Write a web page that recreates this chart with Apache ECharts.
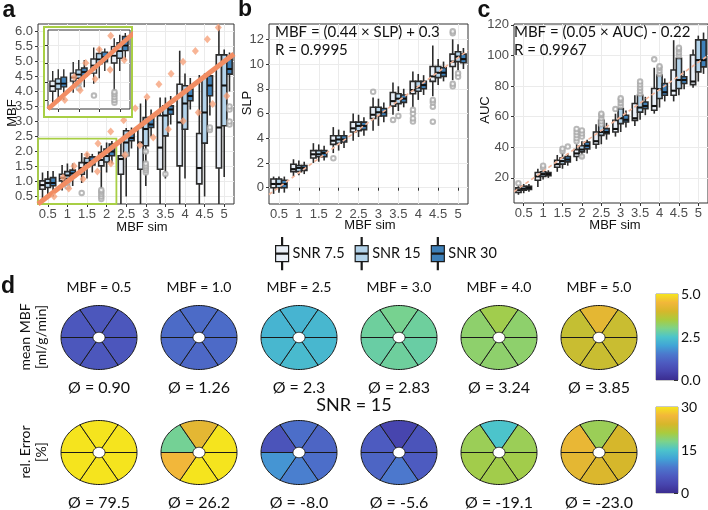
<!DOCTYPE html>
<html><head><meta charset="utf-8">
<script src="https://cdn.jsdelivr.net/npm/echarts@6/dist/echarts.min.js"></script>
<style>html,body{margin:0;padding:0;background:#fff}#c{width:708px;height:510px}</style>
</head><body><div id="c"></div><script>
// ---------- data ----------
const categories = ['0.5','1','1.5','2','2.5','3','3.5','4','4.5','5'];
const seriesNames = ['SNR 7.5','SNR 15','SNR 30'];
const boxFills = ['#eaf0f8','#b3d3ea','#3e80b9'];

// panel a: [min, q1, median, q3, max]
const aSnr75 = [[0.42,0.74,0.88,1.02,1.3],[0.7,1.02,1.12,1.24,1.55],[0.95,1.24,1.45,1.63,1.95],[0.4,1.52,1.72,1.97,2.2],[0.25,1.24,1.75,1.86,2.42],[0.25,1.41,2.3,2.8,3.6],[0.25,1.41,2.13,3.19,3.8],[0.25,1.52,2.97,4.24,5.36],[0.25,0.92,1.45,2.6,4.55],[0.25,1.45,2.8,5.22,6.2]];
const aSnr15 = [[0.45,0.8,0.95,1.08,1.35],[0.78,1.1,1.2,1.33,1.6],[1.1,1.5,1.62,1.78,1.95],[1.3,1.65,1.85,2.08,2.3],[0.5,1.86,2.3,2.69,2.78],[0.85,2.19,2.75,3.13,3.75],[1.1,2.52,3.2,3.52,3.8],[1.1,2.74,3.6,4.19,4.6],[0.5,2.28,3.3,4.48,4.6],[1.15,2.86,4.2,5.22,5.4]];
const aSnr30 = [[0.5,0.86,0.95,1.13,1.35],[0.85,1.15,1.27,1.38,1.6],[1.3,1.55,1.68,1.82,1.92],[1.6,1.86,2.0,2.25,2.35],[2.1,2.36,2.45,2.63,2.8],[2.5,2.8,2.9,3.13,3.4],[2.9,3.24,3.4,3.52,3.85],[3.4,3.69,3.85,4.08,4.45],[3.2,3.86,4.2,4.52,4.7],[4.0,4.58,4.75,5.08,5.3]];
// outliers: [category index, series index, value]
const aOutliers = [[1,1,0.83],[1,1,0.97],[2,0,0.62],[3,0,0.42],[3,0,0.5],[3,0,0.58],[3,0,0.66],[3,0,0.72],[4,1,1.9],[5,1,1.3],[5,1,1.38],[5,1,1.45],[5,1,1.52],[5,1,1.6],[5,1,2.0],[6,1,1.25],[8,2,2.72],[8,2,2.8],[9,2,2.9],[9,2,3.0],[9,2,3.4],[9,2,3.5]];
// diamonds: [position along x (0..10 band units), MBF]
const aDiamondsUpper = [[1.28,1.13],[1.84,1.52],[2.5,1.89],[3.06,2.27],[3.71,2.67],[4.37,3.04],[4.96,3.44],[5.56,3.82],[6.17,4.24],[6.79,4.59],[7.4,4.99],[8.03,5.35],[8.64,5.74],[9.2,6.13]];
const aDiamondsLower = [[0.82,0.5],[1.57,0.77],[2.3,1.08],[3.03,1.33],[3.72,1.6],[4.44,1.88],[5.2,2.21],[5.88,2.47],[6.65,2.74],[7.41,3.02],[8.18,3.3],[8.91,3.58],[9.63,3.85]];
const aIdentityLine = [[0,0.25],[10,5.25]];
const aZoomRegion = [[0,0.25],[4,2.43]];
const aYTicks = [0.5,1,1.5,2,2.5,3,3.5,4,4.5,5,5.5,6];

// panel b
const bSnr75 = [[-0.5,0.0,0.3,0.7,0.9],[0.9,1.3,1.5,1.9,2.3],[2.0,2.4,2.7,3.0,3.6],[2.8,3.5,3.8,4.2,4.9],[3.8,4.5,4.8,5.3,6.0],[4.6,5.6,5.9,6.5,7.3],[5.9,6.6,7.0,7.7,8.5],[6.5,7.6,7.9,8.6,9.4],[7.4,8.6,9.0,9.8,11.5],[8.7,9.8,10.2,10.8,12.0]];
const bSnr15 = [[-0.4,0.0,0.3,0.7,0.9],[1.0,1.3,1.6,1.8,2.2],[2.1,2.5,2.7,3.0,3.5],[3.0,3.6,3.9,4.2,4.7],[4.1,4.6,5.0,5.3,5.9],[5.0,5.8,6.1,6.5,7.2],[6.2,6.8,7.2,7.6,8.2],[7.1,7.8,8.1,8.6,9.2],[8.3,8.9,9.3,9.8,10.4],[9.5,10.2,10.6,11.0,11.6]];
const bSnr30 = [[-0.4,0.0,0.3,0.6,0.9],[1.1,1.4,1.6,1.8,2.1],[2.2,2.5,2.8,3.0,3.4],[3.2,3.7,3.9,4.2,4.6],[4.2,4.7,5.0,5.3,5.7],[5.3,5.8,6.1,6.4,6.9],[6.5,6.9,7.2,7.5,8.0],[7.5,8.0,8.3,8.6,9.1],[8.6,9.0,9.3,9.7,10.2],[9.6,10.1,10.4,10.8,11.3]];
const bOutliers = [[3,0,2.38],[5,0,7.76],[6,0,5.48],[6,1,5.8],[7,0,5.35],[7,0,5.6],[7,0,6.0],[7,0,6.3],[8,0,5.34],[8,0,6.55],[8,0,6.9],[8,0,7.1],[9,0,8.2],[9,0,8.4],[9,0,12.5],[9,0,12.65],[9,1,8.97],[9,1,9.25]];
const bTrendLine = [[0,-0.55],[10,11.1]];
const bYTicks = [0,2,4,6,8,10,12];

// panel c
const cSnr75 = [[9,10.5,12,13.5,15],[14,18.5,21,23.5,26],[24,27,29,31.5,35],[31,34,36,38.5,42],[39,42,44,50,55],[47,50,52,57.6,62],[54,57.6,59,68.6,74],[62,64.2,67,78.4,92],[70,74,77,90.5,110],[79,81,83,100.3,104]];
const cSnr15 = [[10,12,13,14.5,16],[19,21,22.5,24,26],[26,29,31,33,37],[33,37,38.5,41,44],[42,47.8,50,57.6,60],[50,55.5,59,65.3,70],[58,63,66,74,80],[66,71.9,78,87.2,91],[74,78.4,84,98.1,101],[83,89.3,97,110.2,113]];
const cSnr30 = [[11,12.5,13.5,14.5,16],[20,21.5,22.5,23.5,25],[28,30.5,32,34,36],[36,39,41,43.4,45],[45,48.9,50,52.2,56],[53,56.5,58,61,64],[61,65.3,67,69.6,73],[70,74,76,81.7,85],[78,81.7,84,86.1,90],[88,92.6,97,110.2,115]];
const cOutliers = [[0,0,16.5],[1,1,26.5],[1,1,28],[2,1,37.5],[2,1,39],[2,2,40.5],[3,0,44],[3,0,46],[3,0,48],[3,0,50],[3,0,52],[3,1,47],[3,1,49],[3,1,51],[3,1,34],[4,1,55],[4,1,57],[4,1,59],[4,1,61],[4,1,62],[5,0,65],[5,1,67],[5,1,69],[5,1,71],[5,1,72],[6,1,75],[6,1,77],[6,1,79],[6,1,81],[6,1,83],[7,0,97.5],[7,1,88],[7,1,90],[7,1,92],[7,1,93],[8,1,100],[8,1,102],[8,1,104],[8,1,105]];
const cTrendLine = [[0,11],[10,100]];
const cYTicks = [20,40,60,80,100,120];

// panel d: six segments per bullseye, ordered [lower-right, bottom, lower-left, upper-left, top, upper-right]
const pieTitles = ['MBF = 0.5','MBF = 1.0','MBF = 2.5','MBF = 3.0','MBF = 4.0','MBF = 5.0'];
const mbfSegments = [[0.88,0.9,0.9,0.92,0.9,0.9],[1.25,1.22,1.25,1.27,1.27,1.3],[2.3,2.35,2.3,2.25,2.25,2.3],[2.8,2.85,2.8,2.85,2.95,2.85],[3.2,3.2,3.2,3.2,3.4,3.2],[3.85,3.85,3.85,3.8,4.25,3.85]];
const errSegments = [[79,80,79,80,79,80],[30,30,27,17.5,25.5,30],[8,9.5,11,5,8,7],[6,9,7,6,3,5],[20.5,20.5,20.5,20,15,20],[24,24.5,25.5,26,20,24]];
const mbfMeans = ['Ø = 0.90','Ø = 1.26','Ø = 2.3','Ø = 2.83','Ø = 3.24','Ø = 3.85'];
const errMeans = ['Ø = 79.5','Ø = 26.2','Ø = -8.0','Ø = -5.6','Ø = -19.1','Ø = -23.0'];
const colormap = ['#3b2d90','#4745ae','#4d5bc0','#4c78cd','#41a4d6','#4cc4cb','#7cd38a','#aacb3e','#d6b72b','#f2b73a','#f5e41e'];

// ---------- helpers ----------
const TICK_FONT = 'Liberation Sans';
const CAL = 'Lato';
const DARK = '#2b2b2b';

function boxSeries(name, k, rows, xi, yi, lw, z) {
  const fill = boxFills[k];
  return {
    type: 'custom', name, xAxisIndex: xi, yAxisIndex: yi, clip: true, z: z || 2, silent: true,
    itemStyle: { color: fill },
    encode: { x: 0, y: [1, 2, 3, 4, 5] },
    data: rows.map((r, i) => [i].concat(r)),
    renderItem: (params, api) => {
      const c = api.value(0);
      const band = api.size([1, 0])[0];
      const w = band * 0.27;
      const x = api.coord([c, api.value(3)])[0] + (k - 1) * w;
      const y = j => api.coord([c, api.value(j)])[1];
      const yMin = y(1), yQ1 = y(2), yMed = y(3), yQ3 = y(4), yMax = y(5);
      const st = { stroke: DARK, lineWidth: lw };
      return { type: 'group', children: [
        { type: 'line', shape: { x1: x, y1: yMax, x2: x, y2: yQ3 }, style: st },
        { type: 'line', shape: { x1: x, y1: yQ1, x2: x, y2: yMin }, style: st },
        { type: 'rect', shape: { x: x - w / 2, y: yQ3, width: w, height: yQ1 - yQ3 }, style: { fill: fill, stroke: DARK, lineWidth: lw } },
        { type: 'line', shape: { x1: x - w / 2, y1: yMed, x2: x + w / 2, y2: yMed }, style: { stroke: '#111', lineWidth: lw * 1.3 } }
      ] };
    }
  };
}
function outlierSeries(list, xi, yi, z) {
  return {
    type: 'scatter', xAxisIndex: xi, yAxisIndex: yi, silent: true, z: z || 3,
    symbol: 'emptyCircle', symbolSize: 4.5,
    itemStyle: { color: '#a8a8a8', borderColor: '#a8a8a8', borderWidth: 1 },
    data: list.map(o => ({ value: [o[0], o[2]], symbolOffset: [(o[1] - 1) * 5.3, 0] }))
  };
}
function catAxis(gi, showLabels, labels) {
  return {
    type: 'category', gridIndex: gi, data: labels || categories, boundaryGap: true,
    axisLine: { show: false },
    axisTick: { show: true, alignWithLabel: true, length: 3, lineStyle: { color: '#333' } },
    axisLabel: { show: showLabels, interval: 0, margin: 4, fontFamily: TICK_FONT, fontSize: 13, color: '#4d4d4d' },
    splitLine: { show: true, alignWithLabel: true, lineStyle: { color: '#ebebeb', width: 1 } }
  };
}
function hiddenX(gi, max) {
  return { type: 'value', gridIndex: gi, min: 0, max: max, show: false, splitLine: { show: false } };
}
function valAxis(gi, opts, ticks, fmt, showLabels) {
  return Object.assign({
    type: 'value', gridIndex: gi,
    axisLine: { show: false },
    axisTick: { show: true, length: 3, lineStyle: { color: '#333' }, customValues: ticks },
    axisLabel: { show: showLabels !== false, customValues: ticks, margin: 5, fontFamily: TICK_FONT, fontSize: 13, color: '#4d4d4d', formatter: fmt },
    splitLine: { show: true, lineStyle: { color: '#ebebeb', width: 1 } }
  }, opts);
}

const gridStyle = { show: true, backgroundColor: '#fff', borderColor: '#333', borderWidth: 1 };
const grids = [
  Object.assign({ left: 38, top: 24, width: 196, height: 180 }, gridStyle),   // a
  Object.assign({ left: 269, top: 24, width: 199, height: 180 }, gridStyle),  // b
  Object.assign({ left: 514, top: 24, width: 194, height: 179 }, gridStyle),  // c
  Object.assign({ left: 48, top: 30, width: 82, height: 79, z: 11 }, gridStyle), // inset
  { left: 656, top: 294, width: 22, height: 86, show: true, borderColor: '#777', borderWidth: 0.8 },
  { left: 656, top: 407, width: 22, height: 86, show: true, borderColor: '#777', borderWidth: 0.8 },
  { left: 49, top: 280, width: 600, height: 230, show: false }   // bullseye layout
];

const insetCats = categories.slice(0, 4);
const xAxes = [
  catAxis(0, true), hiddenX(0, 10),
  catAxis(1, true), hiddenX(1, 10),
  catAxis(2, true), hiddenX(2, 10),
  Object.assign(catAxis(3, false, insetCats), { z: 11 }), Object.assign(hiddenX(3, 4), { z: 11 }),
  { type: 'category', gridIndex: 4, data: [''], show: false },
  { type: 'category', gridIndex: 5, data: [''], show: false },
  { type: 'value', gridIndex: 6, min: 0, max: 6, show: false, splitLine: { show: false } }
];
const yAxes = [
  valAxis(0, { min: 0.25, max: 6.25, interval: 0.25 }, aYTicks, v => v.toFixed(1)),
  valAxis(1, { min: -1.32, max: 13.24, splitNumber: 14 }, bYTicks, v => String(v)),
  valAxis(2, { min: 3.6, max: 120.6, splitNumber: 12 }, cYTicks, v => String(v)),
  Object.assign(valAxis(3, { min: 0.25, max: 2.43, interval: 0.25 }, [0.5, 1, 1.5, 2], v => v, false), { z: 11 }),
  { type: 'value', gridIndex: 4, min: 0, max: 5, interval: 0.5, position: 'right',
    axisLine: { show: false }, splitLine: { show: false },
    axisTick: { show: true, inside: true, length: 4, lineStyle: { color: '#333' } },
    axisLabel: { customValues: [0, 2.5, 5], formatter: v => v.toFixed(1), margin: 3, fontFamily: CAL, fontSize: 14, color: '#111' } },
  { type: 'value', gridIndex: 5, min: 0, max: 30, interval: 3, position: 'right',
    axisLine: { show: false }, splitLine: { show: false },
    axisTick: { show: true, inside: true, length: 4, lineStyle: { color: '#333' } },
    axisLabel: { customValues: [0, 15, 30], formatter: v => String(v), margin: 3, fontFamily: CAL, fontSize: 14, color: '#111' } },
  { type: 'value', gridIndex: 6, min: 0, max: 2, inverse: true, show: false, splitLine: { show: false } }
];

const series = [];
// panel a
[aSnr75, aSnr15, aSnr30].forEach((rows, k) => series.push(boxSeries(seriesNames[k], k, rows, 0, 0, 1.6)));
series.push(outlierSeries(aOutliers, 0, 0));
series.push({ type: 'line', xAxisIndex: 1, yAxisIndex: 0, data: aIdentityLine, symbol: 'none', silent: true, z: 4,
  lineStyle: { color: '#f28d63', width: 5 } });
series.push({ type: 'scatter', xAxisIndex: 1, yAxisIndex: 0, data: aDiamondsUpper.concat(aDiamondsLower), symbol: 'diamond',
  symbolSize: [7, 8], silent: true, z: 5, itemStyle: { color: '#f6a27c' },
  markArea: { silent: true, itemStyle: { color: 'rgba(0,0,0,0)', borderColor: '#a8cf45', borderWidth: 1.8 },
    data: [[{ coord: aZoomRegion[0] }, { coord: aZoomRegion[1] }]] } });
// inset
[aSnr75, aSnr15, aSnr30].forEach((rows, k) => series.push(boxSeries(seriesNames[k], k, rows.slice(0, 4), 6, 3, 1.4, 12)));
series.push(outlierSeries(aOutliers.filter(o => o[0] < 4), 6, 3, 13));
series.push({ type: 'line', xAxisIndex: 7, yAxisIndex: 3, data: aIdentityLine, symbol: 'none', silent: true, z: 14, clip: true,
  lineStyle: { color: '#f28d63', width: 4.5 } });
series.push({ type: 'scatter', xAxisIndex: 7, yAxisIndex: 3, data: aDiamondsUpper.concat(aDiamondsLower), symbol: 'diamond',
  symbolSize: [7, 8], silent: true, z: 15, clip: true, itemStyle: { color: '#f6a27c' } });
// panel b
[bSnr75, bSnr15, bSnr30].forEach((rows, k) => series.push(boxSeries(seriesNames[k], k, rows, 2, 1, 1.6)));
series.push(outlierSeries(bOutliers, 2, 1));
series.push({ type: 'line', xAxisIndex: 3, yAxisIndex: 1, data: bTrendLine, symbol: 'none', silent: true, z: 4,
  lineStyle: { color: '#f3b59a', width: 1.6, type: [4, 3] } });
// panel c
[cSnr75, cSnr15, cSnr30].forEach((rows, k) => series.push(boxSeries(seriesNames[k], k, rows, 4, 2, 1.6)));
series.push(outlierSeries(cOutliers, 4, 2));
series.push({ type: 'line', xAxisIndex: 5, yAxisIndex: 2, data: cTrendLine, symbol: 'none', silent: true, z: 4,
  lineStyle: { color: '#f3b59a', width: 1.6, type: [4, 3] } });
// colorbars
const gradStops = colormap.map((c, i) => ({ offset: i / (colormap.length - 1), color: c }));
series.push({ type: 'bar', xAxisIndex: 8, yAxisIndex: 4, data: [5], barWidth: '100%', silent: true,
  itemStyle: { color: { type: 'linear', x: 0, y: 1, x2: 0, y2: 0, colorStops: gradStops } } });
series.push({ type: 'bar', xAxisIndex: 9, yAxisIndex: 5, data: [30], barWidth: '100%', silent: true,
  itemStyle: { color: { type: 'linear', x: 0, y: 1, x2: 0, y2: 0, colorStops: gradStops } } });

// panel d bullseyes (elliptical, like the stretched reference)
const RX = 38, RY = 32, IRX = 6, IRY = 5.2;
function bullseyeRender(params, api) {
  const c = api.coord([api.value(0), api.value(1)]);
  const s = api.value(2);
  const a0 = s * Math.PI / 3, a1 = (s + 1) * Math.PI / 3;
  const pts = [];
  const N = 24;
  for (let i = 0; i <= N; i++) { const a = a0 + (a1 - a0) * i / N; pts.push([c[0] + RX * Math.cos(a), c[1] + RY * Math.sin(a)]); }
  for (let i = N; i >= 0; i--) { const a = a0 + (a1 - a0) * i / N; pts.push([c[0] + IRX * Math.cos(a), c[1] + IRY * Math.sin(a)]); }
  return { type: 'polygon', shape: { points: pts }, style: { fill: api.visual('color'), stroke: '#1a1a1a', lineWidth: 1 } };
}
function bullseyeData(rows, rowIdx) {
  const d = [];
  rows.forEach((vals, col) => vals.forEach((v, s) => d.push([col + 0.5, rowIdx + 0.5, s, v])));
  return d;
}
const mbfSeriesIdx = series.length;
series.push({ type: 'custom', xAxisIndex: 10, yAxisIndex: 6, silent: true, renderItem: bullseyeRender,
  encode: { x: 0, y: 1 }, data: bullseyeData(mbfSegments, 0) });
const errSeriesIdx = series.length;
series.push({ type: 'custom', xAxisIndex: 10, yAxisIndex: 6, silent: true, renderItem: bullseyeRender,
  encode: { x: 0, y: 1 }, data: bullseyeData(errSegments, 1) });

// ---------- text ----------
const colX = [99, 199, 299, 399, 499, 599];
const graphics = [];
function txt(s, x, y, font, opts) {
  graphics.push(Object.assign({ type: 'text', x, y, silent: true, z: 50,
    style: Object.assign({ text: s, font: font, fill: '#111', align: 'center', verticalAlign: 'middle',
      textAlign: 'center', textVerticalAlign: 'middle' }, (opts && opts.style) || {}) },
    opts && opts.rotation ? { rotation: opts.rotation } : {}));
}
txt('a', 9, 11, 'bold 23px "Liberation Sans"');
txt('b', 245, 10, 'bold 23px "Liberation Sans"');
txt('c', 484, 11, 'bold 23px "Liberation Sans"');
txt('d', 8, 287, 'bold 23px "Liberation Sans"');
txt('MBF sim', 142, 227, '13px "Liberation Sans"');
txt('MBF sim', 370, 225, '13px "Liberation Sans"');
txt('MBF sim', 615, 225, '13px "Liberation Sans"');
txt('MBF', 12, 113, '13px "Liberation Sans"', { rotation: Math.PI / 2 });
txt('SLP', 247, 103, '13px "Liberation Sans"', { rotation: Math.PI / 2 });
txt('AUC', 485, 110, '13px "Liberation Sans"', { rotation: Math.PI / 2 });
txt('MBF = (0.44 × SLP) + 0.3', 275, 32, '15px Lato', { style: { align: 'left', textAlign: 'left' } });
txt('R = 0.9995', 275, 50, '15px Lato', { style: { align: 'left', textAlign: 'left' } });
txt('MBF = (0.05 × AUC) - 0.22', 514, 32, '15px Lato', { style: { align: 'left', textAlign: 'left' } });
txt('R = 0.9967', 514, 50, '15px Lato', { style: { align: 'left', textAlign: 'left' } });
pieTitles.forEach((t, i) => txt(t, colX[i], 287, '14px Lato'));
mbfMeans.forEach((t, i) => txt(t, colX[i], 388, '16px Lato'));
errMeans.forEach((t, i) => txt(t, colX[i], 503, '16px Lato'));
txt('SNR = 15', 354, 405, '18px Lato');
txt('mean MBF', 25, 337, '14px Lato', { rotation: Math.PI / 2 });
txt('[ml/g/min]', 41, 337, '14px Lato', { rotation: Math.PI / 2 });
txt('rel. Error', 25, 452, '14px Lato', { rotation: Math.PI / 2 });
txt('[%]', 41, 452, '14px Lato', { rotation: Math.PI / 2 });
// inset frame
graphics.push({ type: 'rect', z: 10, silent: true, shape: { x: 44, y: 27, width: 88, height: 90 },
  style: { fill: '#fff', stroke: '#a8cf45', lineWidth: 2 } });

const legendIcon = 'path://M6,0 L7,0 L7,8 L13,8 L13,24 L7,24 L7,32 L6,32 L6,24 L0,24 L0,8 L6,8 Z M0,15.4 L13,15.4 L13,16.6 L0,16.6 Z';

const option = {
  animation: false,
  backgroundColor: '#fff',
  grid: grids,
  xAxis: xAxes,
  yAxis: yAxes,
  visualMap: [
    { type: 'continuous', show: false, min: 0, max: 5, dimension: 3, seriesIndex: mbfSeriesIdx, inRange: { color: colormap } },
    { type: 'continuous', show: false, min: 0, max: 30, dimension: 3, seriesIndex: errSeriesIdx, inRange: { color: colormap } }
  ],
  legend: {
    left: 270, top: 232, orient: 'horizontal', itemWidth: 13, itemHeight: 32, itemGap: 10, selectedMode: false,
    textStyle: { fontFamily: CAL, fontSize: 14.5, color: '#111', padding: [0, 0, 0, -1] },
    data: seriesNames.map((n, k) => ({ name: n, icon: legendIcon,
      itemStyle: { color: boxFills[k], borderColor: '#1a1a1a', borderWidth: 1.2 } }))
  },
  graphic: graphics,
  series: series
};
const chart = echarts.init(document.getElementById('c'), null, { renderer: 'canvas' });
chart.setOption(option);
</script></body></html>
